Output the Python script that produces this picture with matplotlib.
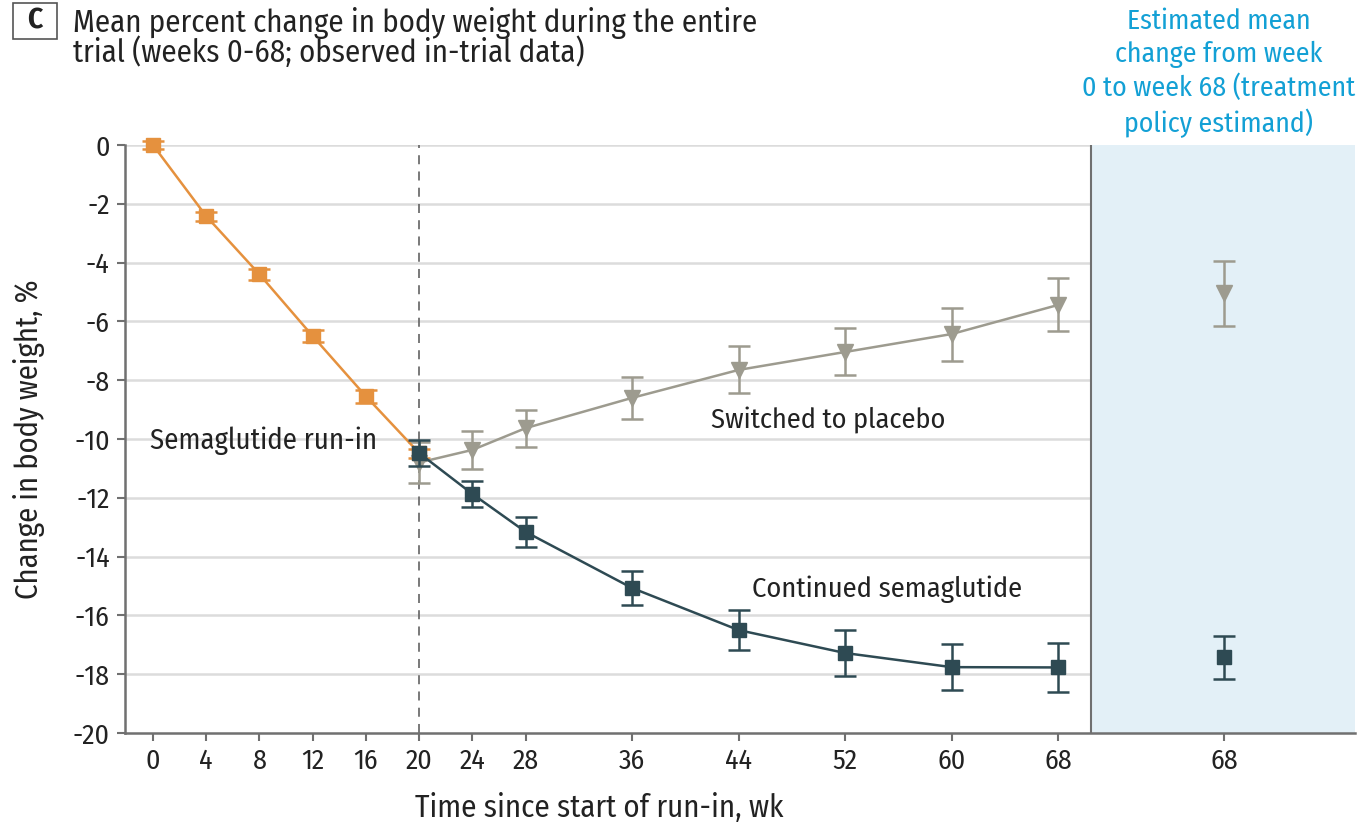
import matplotlib
matplotlib.use("Agg")
import matplotlib.pyplot as plt
from matplotlib.patches import Rectangle
from matplotlib import font_manager

# ---------------- data ----------------
runin_weeks = [0, 4, 8, 12, 16, 20]
runin_mean = [0.0, -2.42, -4.40, -6.50, -8.55, -10.48]
runin_err = [0.12, 0.15, 0.18, 0.20, 0.22, 0.15]

rand_weeks = [20, 24, 28, 36, 44, 52, 60, 68]
placebo_mean = [-10.80, -10.37, -9.63, -8.60, -7.65, -7.04, -6.43, -5.44]
placebo_err = [0.70, 0.65, 0.63, 0.72, 0.80, 0.80, 0.90, 0.90]
sema_mean = [-10.48, -11.87, -13.16, -15.07, -16.50, -17.28, -17.76, -17.77]
sema_err = [0.45, 0.45, 0.50, 0.58, 0.68, 0.78, 0.78, 0.83]

est_label = "68"
est_placebo_mean, est_placebo_err = -5.05, 1.12
est_sema_mean, est_sema_err = -17.43, 0.74

xtick_labels = ["0", "4", "8", "12", "16", "20", "24", "28", "36", "44", "52", "60", "68"]
yticks = [0, -2, -4, -6, -8, -10, -12, -14, -16, -18, -20]

# ---------------- style ----------------
avail = {f.name for f in font_manager.fontManager.ttflist}
FONT = "Fira Sans Condensed" if "Fira Sans Condensed" in avail else "DejaVu Sans"
plt.rcParams["font.family"] = [FONT, "DejaVu Sans"]

ORANGE = "#E5913E"
DARK = "#2E4A53"
GRAY = "#9D9B8F"
BLUE = "#13A0D5"
SHADE = "#E3F0F7"
AXC = "#707070"
TXT = "#222222"

W, H = 1360, 826
fig = plt.figure(figsize=(W / 100, H / 100), dpi=100)
ax = fig.add_axes([125 / W, 93 / H, 1230 / W, 588 / H])

XL, XR = -2.1, 90.3
SEP = 70.47
EST_X = 80.47
ax.set_xlim(XL, XR)
ax.set_ylim(-20, 0)

ax.axvspan(SEP, XR, color=SHADE, zorder=0, lw=0)
ax.hlines(yticks[:-1], XL, SEP, color="#DCDCDC", lw=1.8, zorder=0.5)
ax.axvline(SEP, color=AXC, lw=1.5, zorder=1)
ax.axvline(20, color="#6E6E6E", lw=1.3, ls=(0, (5, 4)), zorder=1)

ekw = dict(capsize=8, capthick=1.8, elinewidth=1.8, lw=1.8, clip_on=False)
ax.errorbar(runin_weeks, runin_mean, yerr=runin_err, color=ORANGE, marker="s",
            ms=10.5, zorder=3, **ekw)
ax.errorbar(rand_weeks, placebo_mean, yerr=placebo_err, color=GRAY, marker="v",
            ms=12, zorder=3, **ekw)
ax.errorbar(rand_weeks, sema_mean, yerr=sema_err, color=DARK, marker="s",
            ms=10.5, zorder=4, **ekw)
ax.errorbar([EST_X], [est_placebo_mean], yerr=[est_placebo_err], color=GRAY,
            marker="v", ms=12, zorder=3, **ekw)
ax.errorbar([EST_X], [est_sema_mean], yerr=[est_sema_err], color=DARK,
            marker="s", ms=10.5, zorder=4, **ekw)

for s in ["top", "right"]:
    ax.spines[s].set_visible(False)
for s in ["left", "bottom"]:
    ax.spines[s].set_color(AXC)
    ax.spines[s].set_linewidth(1.8)

xt = [float(v) for v in xtick_labels] + [EST_X]
ax.set_xticks(xt)
ax.set_xticklabels(xtick_labels + [est_label])
ax.set_yticks(yticks)
ax.set_yticklabels([str(v) for v in yticks])
ax.tick_params(direction="out", length=6, width=1.5, color=AXC,
               labelsize=20, labelcolor=TXT, pad=5)

ax.set_ylabel("Change in body weight, %", fontsize=22, color=TXT, labelpad=20)
# x label centred under the observed-data region
fig.text(599 / W, 1 - 808 / H, "Time since start of run-in, wk", fontsize=22.3,
         color=TXT, ha="center", va="center")

ax.text(-0.2, -10.05, "Semaglutide run-in", fontsize=20.6, color=TXT, va="center")
ax.text(41.9, -9.37, "Switched to placebo", fontsize=20.4, color=TXT, va="center")
ax.text(45.0, -15.12, "Continued semaglutide", fontsize=20.5, color=TXT, va="center")

# panel header
fig.patches.append(Rectangle((13 / W, 1 - 39 / H), 44 / W, 36 / H, transform=fig.transFigure,
                             fill=False, ec="#555555", lw=1.2))
fig.text(35 / W, 1 - 21 / H, "C", fontsize=21, fontweight="bold", color=TXT,
         ha="center", va="center")
fig.text(73 / W, 1 - 32 / H, "Mean percent change in body weight during the entire",
         fontsize=22.2, color=TXT, va="baseline")
fig.text(73 / W, 1 - 62 / H, "trial (weeks 0-68; observed in-trial data)",
         fontsize=22.2, color=TXT, va="baseline")

fig.text(1219 / W, 1 - 73 / H,
         "Estimated mean\nchange from week\n0 to week 68 (treatment\npolicy estimand)",
         fontsize=20.0, color=BLUE, ha="center", va="center", linespacing=1.3)

fig.savefig("out.png", dpi=100)
